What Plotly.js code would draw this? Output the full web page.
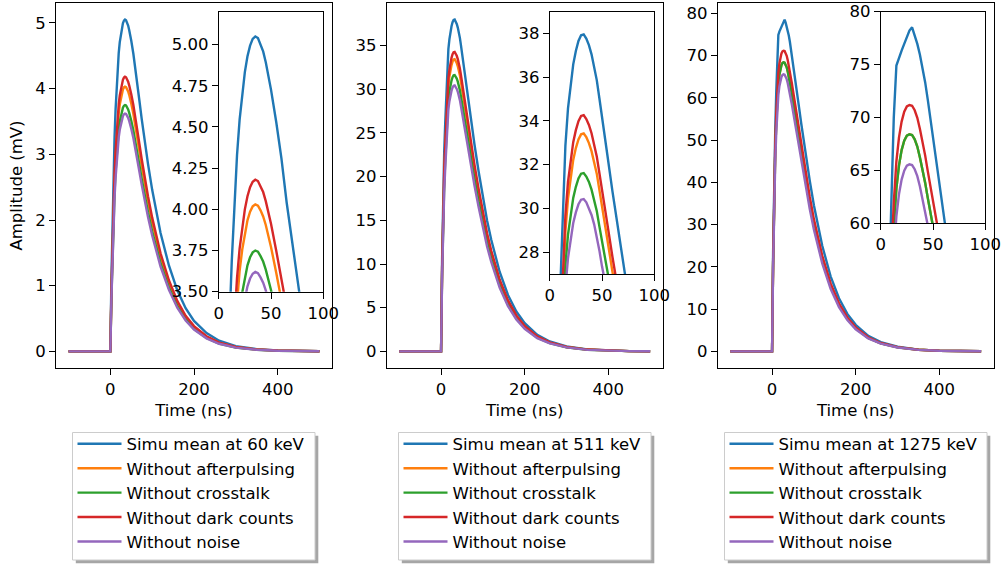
<!DOCTYPE html>
<html>
<head>
<meta charset="utf-8">
<script src="https://cdn.plot.ly/plotly-3.0.1.min.js"></script>
<style>html,body{margin:0;padding:0;background:#fff;}#chart{width:1003px;height:567px;}</style>
</head>
<body>
<div id="chart"></div>
<script>
// ---- data ----
const timeNs = [-100, 0, 2.5, 5, 7.5, 10, 12.5, 15, 17.5, 20, 22.5, 25, 27.5, 30, 32.5, 35, 37.5, 40, 42.5, 45, 47.5, 50, 55, 60, 65, 70, 75, 80, 90, 100, 110, 120, 140, 160, 180, 200, 230, 260, 300, 350, 400, 450, 500];

const seriesNames60 = ["Simu mean at 60 keV", "Without afterpulsing", "Without crosstalk", "Without dark counts", "Without noise"];
const seriesNames511 = ["Simu mean at 511 keV", "Without afterpulsing", "Without crosstalk", "Without dark counts", "Without noise"];
const seriesNames1275 = ["Simu mean at 1275 keV", "Without afterpulsing", "Without crosstalk", "Without dark counts", "Without noise"];

// 60 keV (mV)
const simu60 = [0,0,1.111,2.02,2.727,3.257,3.687,4.04,4.328,4.545,4.707,4.833,4.929,4.994,5.035,5.05,5.04,5.005,4.959,4.893,4.818,4.727,4.53,4.308,4.04,3.788,3.535,3.283,2.853,2.459,2.111,1.803,1.308,0.929,0.657,0.465,0.278,0.162,0.081,0.035,0.015,0.006,0.003];
const noAfter60 = [0,0,0.887,1.612,2.176,2.599,2.942,3.224,3.454,3.627,3.756,3.857,3.933,3.986,4.018,4.03,4.022,3.994,3.957,3.905,3.845,3.772,3.615,3.438,3.224,3.023,2.821,2.62,2.277,1.963,1.685,1.439,1.044,0.742,0.524,0.371,0.222,0.129,0.064,0.028,0.012,0.005,0.002];
const noCross60 = [0,0,0.825,1.5,2.025,2.419,2.738,3.0,3.214,3.375,3.495,3.589,3.66,3.709,3.739,3.75,3.743,3.716,3.683,3.634,3.578,3.51,3.364,3.199,3.0,2.813,2.625,2.438,2.119,1.826,1.568,1.339,0.971,0.69,0.488,0.345,0.206,0.12,0.06,0.026,0.011,0.0045,0.002];
const noDark60 = [0,0,0.92,1.672,2.257,2.696,3.051,3.344,3.582,3.762,3.896,4.0,4.08,4.134,4.167,4.18,4.172,4.142,4.105,4.05,3.988,3.912,3.749,3.566,3.344,3.135,2.926,2.717,2.362,2.036,1.747,1.492,1.083,0.769,0.543,0.385,0.23,0.134,0.067,0.029,0.013,0.005,0.002];
const noNoise60 = [0,0,0.796,1.448,1.955,2.335,2.643,2.896,3.102,3.258,3.374,3.464,3.533,3.58,3.609,3.62,3.613,3.587,3.555,3.508,3.453,3.388,3.247,3.088,2.896,2.715,2.534,2.353,2.045,1.763,1.513,1.292,0.938,0.666,0.471,0.333,0.199,0.116,0.058,0.025,0.011,0.004,0.002];

// 511 keV (mV)
const simu511 = [0,0,10.64,17.86,22.8,26.22,29.64,32.87,34.58,35.72,36.59,37.2,37.66,37.92,37.96,37.77,37.47,37.05,36.52,35.87,35.04,34.12,32.49,30.78,28.96,27.17,25.38,23.64,20.52,17.56,14.97,12.77,9.12,6.46,4.56,3.23,1.9,1.14,0.57,0.23,0.095,0.038,0.019];
const noAfter511 = [0,0,9.37,15.73,20.08,23.09,26.1,28.94,30.45,31.45,32.22,32.76,33.16,33.39,33.43,33.26,32.99,32.62,32.15,31.59,30.85,30.05,28.61,27.1,25.5,23.92,22.35,20.81,18.07,15.46,13.18,11.24,8.03,5.69,4.02,2.84,1.67,1.0,0.5,0.2,0.084,0.033,0.017];
const noCross511 = [0,0,8.86,14.88,18.99,21.84,24.69,27.38,28.8,29.75,30.48,30.99,31.37,31.59,31.62,31.46,31.21,30.86,30.42,29.88,29.18,28.42,27.06,25.64,24.12,22.63,21.14,19.69,17.09,14.62,12.47,10.63,7.6,5.38,3.8,2.69,1.58,0.95,0.47,0.19,0.079,0.032,0.016];
const noDark511 = [0,0,9.6,16.12,20.58,23.67,26.75,29.67,31.21,32.24,33.03,33.58,33.99,34.23,34.27,34.09,33.82,33.44,32.96,32.38,31.62,30.8,29.33,27.78,26.14,24.52,22.91,21.33,18.52,15.85,13.51,11.52,8.23,5.83,4.12,2.92,1.72,1.03,0.51,0.21,0.086,0.034,0.017];
const noNoise511 = [0,0,8.53,14.32,18.28,21.02,23.76,26.35,27.72,28.63,29.33,29.82,30.19,30.4,30.43,30.28,30.03,29.7,29.27,28.75,28.08,27.35,26.04,24.67,23.21,21.78,20.35,18.95,16.45,14.07,12.0,10.23,7.31,5.18,3.66,2.59,1.52,0.91,0.46,0.18,0.076,0.03,0.015];

// 1275 keV (mV)
const simu1275 = [0,0,23.58,40.87,51.88,61.31,69.95,74.91,75.69,76.32,76.95,77.58,78.21,78.52,77.81,76.95,75.93,74.75,73.33,71.68,69.95,68.22,64.69,61.07,57.38,53.76,50.15,46.77,40.48,34.58,29.48,25.0,17.76,12.58,8.88,6.29,3.69,2.2,1.1,0.43,0.17,0.079,0.031];
const noAfter1275 = [0,0,20.52,35.57,46.51,54.04,59.51,63.27,65.46,66.9,67.78,68.26,68.4,68.33,67.92,67.24,66.21,65.05,63.82,62.38,60.88,59.37,56.29,53.15,49.93,46.79,43.64,40.7,35.23,30.1,25.65,21.75,15.46,10.94,7.73,5.47,3.21,1.92,0.96,0.38,0.15,0.068,0.027];
const noCross1275 = [0,0,20.52,35.57,46.51,54.04,59.51,63.27,65.46,66.9,67.78,68.26,68.4,68.33,67.92,67.24,66.21,65.05,63.82,62.38,60.88,59.37,56.29,53.15,49.93,46.79,43.64,40.7,35.23,30.1,25.65,21.75,15.46,10.94,7.73,5.47,3.21,1.92,0.96,0.38,0.15,0.068,0.027];
const noDark1275 = [0,0,21.35,37.01,48.4,56.22,61.92,65.83,68.11,69.6,70.53,71.03,71.17,71.1,70.67,69.96,68.89,67.68,66.4,64.91,63.34,61.78,58.57,55.3,51.95,48.68,45.41,42.35,36.65,31.31,26.69,22.63,16.08,11.39,8.04,5.69,3.35,1.99,1.0,0.39,0.16,0.071,0.028];
const noNoise1275 = [0,0,19.67,34.09,44.57,51.78,57.03,60.63,62.73,64.11,64.96,65.42,65.55,65.48,65.09,64.44,63.45,62.34,61.16,59.78,58.34,56.9,53.95,50.93,47.85,44.84,41.82,39.0,33.76,28.84,24.58,20.84,14.81,10.49,7.41,5.24,3.08,1.84,0.92,0.36,0.14,0.066,0.026];

const xTickLabels = ["0", "200", "400"];
const insetXTickLabels = ["0", "50", "100"];

// ---- styling / layout ----
const W = 1003, H = 567;
const colors = ["#1f77b4", "#ff7f0e", "#2ca02c", "#d62728", "#9467bd"];
const FONT = "DejaVu Sans, sans-serif";
const FS = 16.5;
const px = v => v / W;
const py = v => 1 - v / H;

const panels = [
  {names: seriesNames60, data: [simu60, noAfter60, noCross60, noDark60, noNoise60],
   main: {x0: 56, x1: 332, yr: [-0.2525, 5.3025], dtick: 1},
   inset: {x0: 218.7, x1: 323.3, y0: 11.7, y1: 291.7, yr: [3.5, 5.2], dtick: 0.25, fmt: ".2f"},
   legendBox: [72.5, 432.5, 315, 560]},
  {names: seriesNames511, data: [simu511, noAfter511, noCross511, noDark511, noNoise511],
   main: {x0: 386.7, x1: 662.7, yr: [-1.898, 39.858], dtick: 5},
   inset: {x0: 549.7, x1: 654.3, y0: 11.7, y1: 274, yr: [27, 39], dtick: 2, fmt: "d"},
   legendBox: [398.5, 432.5, 651, 560]},
  {names: seriesNames1275, data: [simu1275, noAfter1275, noCross1275, noDark1275, noNoise1275],
   main: {x0: 717.7, x1: 993.7, yr: [-3.926, 82.45], dtick: 10},
   inset: {x0: 880.7, x1: 985.3, y0: 11.7, y1: 223, yr: [60, 80], dtick: 5, fmt: "d"},
   legendBox: [724.5, 432.5, 987, 560]}
];

const axisBase = {
  showline: true, mirror: true, linecolor: "#000", linewidth: 1,
  ticks: "outside", ticklen: 6, tickwidth: 1, tickcolor: "#000",
  showgrid: false, zeroline: false, fixedrange: true,
  tickfont: {family: FONT, size: FS, color: "#000"}
};

const traces = [];
const layout = {
  width: W, height: H,
  margin: {l: 0, r: 0, t: 0, b: 0},
  paper_bgcolor: "#fff", plot_bgcolor: "#fff",
  font: {family: FONT, size: FS, color: "#000"},
  shapes: [],
  showlegend: true
};

panels.forEach((p, i) => {
  const mi = 2 * i + 1, ii = 2 * i + 2;
  const mx = "x" + (mi === 1 ? "" : mi), my = "y" + (mi === 1 ? "" : mi);
  const ix = "x" + ii, iy = "y" + ii;
  const legendId = i === 0 ? "legend" : "legend" + (i + 1);

  p.data.forEach((vals, k) => {
    traces.push({x: timeNs, y: vals, type: "scatter", mode: "lines", name: p.names[k],
      xaxis: mx, yaxis: my, line: {color: colors[k], width: 2.4}, legend: legendId,
      showlegend: true, hoverinfo: "skip"});
  });
  p.data.forEach((vals, k) => {
    traces.push({x: timeNs, y: vals, type: "scatter", mode: "lines", name: p.names[k],
      xaxis: ix, yaxis: iy, line: {color: colors[k], width: 2.4}, legend: legendId,
      showlegend: false, hoverinfo: "skip"});
  });

  const mxKey = "xaxis" + (mi === 1 ? "" : mi), myKey = "yaxis" + (mi === 1 ? "" : mi);
  layout[mxKey] = Object.assign({}, axisBase, {
    domain: [px(p.main.x0), px(p.main.x1)], anchor: my, range: [-130, 530],
    tickmode: "array", tickvals: [0, 200, 400], ticktext: xTickLabels,
    title: {text: "Time (ns)", font: {family: FONT, size: FS, color: "#000"}, standoff: 6}
  });
  layout[myKey] = Object.assign({}, axisBase, {
    domain: [py(368), py(3)], anchor: mx, range: p.main.yr, dtick: p.main.dtick, tick0: 0
  });
  if (i === 0) {
    layout[myKey].title = {text: "Amplitude (mV)", font: {family: FONT, size: FS, color: "#000"}, standoff: 8};
  }
  layout["xaxis" + ii] = Object.assign({}, axisBase, {
    domain: [px(p.inset.x0), px(p.inset.x1)], anchor: iy, range: [0, 100],
    tickmode: "array", tickvals: [0, 50, 100], ticktext: insetXTickLabels
  });
  layout["yaxis" + ii] = Object.assign({}, axisBase, {
    domain: [py(p.inset.y1), py(p.inset.y0)], anchor: ix, range: p.inset.yr,
    dtick: p.inset.dtick, tick0: 0, tickformat: p.inset.fmt
  });

  const b = p.legendBox;
  layout.shapes.push({type: "rect", xref: "paper", yref: "paper",
    x0: px(b[0] + 3.3), x1: px(b[2] + 3.3), y0: py(b[3] + 3.3), y1: py(b[1] + 3.3),
    fillcolor: "rgba(77,77,77,0.5)", line: {width: 0}, layer: "above"});
  layout.shapes.push({type: "rect", xref: "paper", yref: "paper",
    x0: px(b[0]), x1: px(b[2]), y0: py(b[3]), y1: py(b[1]),
    fillcolor: "#fff", line: {color: "#cccccc", width: 1}, layer: "above"});

  layout[legendId] = {
    x: px(b[0]), y: py(b[1] - 6), xanchor: "left", yanchor: "top",
    bgcolor: "rgba(0,0,0,0)", borderwidth: 0, itemwidth: 44,
    font: {family: FONT, size: FS, color: "#000"}, tracegroupgap: 0
  };
});

Plotly.newPlot("chart", traces, layout, {displayModeBar: false, staticPlot: true});
</script>
</body>
</html>
